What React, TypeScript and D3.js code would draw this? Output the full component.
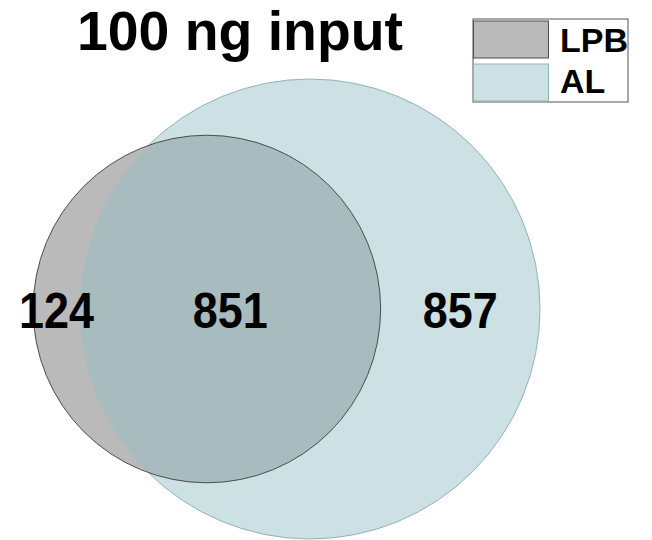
import React from 'react'
import * as d3 from 'd3'

// sets and region counts
const setNames = ['LPB', 'AL']
const setFills = ['#bababa', '#cde0e3']
const setStrokes = ['#4d4d4d', '#8fb4ba']
const overlapFill = '#a8bbbf'
const onlyCounts = [124, 857]
const sharedCount = 851
const title = '100 ng input'

const width = 652
const height = 540

// area of the lens between two circles
const lensArea = (r1: number, r2: number, d: number) => {
  if (d >= r1 + r2) return 0
  if (d <= Math.abs(r1 - r2)) return Math.PI * Math.min(r1, r2) ** 2
  const a = r1 * r1 * Math.acos((d * d + r1 * r1 - r2 * r2) / (2 * d * r1))
  const b = r2 * r2 * Math.acos((d * d + r2 * r2 - r1 * r1) / (2 * d * r2))
  const c =
    0.5 *
    Math.sqrt((-d + r1 + r2) * (d + r1 - r2) * (d - r1 + r2) * (d + r1 + r2))
  return a + b - c
}

export default function App() {
  const totals = onlyCounts.map((c) => c + sharedCount)

  const rScale = d3
    .scaleSqrt()
    .domain([0, d3.max(totals) as number])
    .range([0, 230])
  const r1 = rScale(totals[0])
  const r2 = rScale(totals[1])

  // solve the centre distance so the lens matches the shared count
  const target = (sharedCount / totals[0]) * Math.PI * r1 * r1
  let lo = Math.abs(r2 - r1)
  let hi = r1 + r2
  for (let i = 0; i < 60; i++) {
    const mid = (lo + hi) / 2
    if (lensArea(r1, r2, mid) > target) lo = mid
    else hi = mid
  }
  const dist = (lo + hi) / 2

  const cx2 = 310
  const cy = 309
  const cx1 = cx2 - dist

  // label positions: centre of each region on the horizontal axis
  const leftOnly = (cx1 - r1 + cx2 - r2) / 2
  const middle = (cx2 - r2 + cx1 + r1) / 2
  const rightOnly = (cx1 + r1 + cx2 + r2) / 2
  const labelX = [leftOnly, middle, rightOnly]
  const labelText = [onlyCounts[0], sharedCount, onlyCounts[1]]

  const font = 'Liberation Sans, Arial, sans-serif'

  return (
    <svg
      width={width}
      height={height}
      style={{ position: 'absolute', left: 0, top: 0, background: '#fff' }}
    >
      <defs>
        <clipPath id="lpb-clip">
          <circle cx={cx1} cy={cy} r={r1} />
        </clipPath>
      </defs>

      <circle
        cx={cx2}
        cy={cy}
        r={r2}
        fill={setFills[1]}
        stroke={setStrokes[1]}
        strokeWidth={1}
      />
      <circle cx={cx1} cy={cy} r={r1} fill={setFills[0]} />
      <circle
        cx={cx2}
        cy={cy}
        r={r2}
        fill={overlapFill}
        clipPath="url(#lpb-clip)"
      />
      <circle
        cx={cx1}
        cy={cy}
        r={r1}
        fill="none"
        stroke={setStrokes[0]}
        strokeWidth={1}
      />

      {labelText.map((t, i) => (
        <text
          key={i}
          x={labelX[i]}
          y={328}
          textAnchor="middle"
          fontFamily={font}
          fontWeight="bold"
          fontSize={50}
          textLength={75}
          lengthAdjust="spacingAndGlyphs"
          fill="#000"
        >
          {t}
        </text>
      ))}

      <text
        x={77}
        y={50}
        fontFamily={font}
        fontWeight="bold"
        fontSize={55}
        textLength={326}
        lengthAdjust="spacingAndGlyphs"
        fill="#000"
      >
        {title}
      </text>

      <g transform="translate(473,19)">
        <rect x={0} y={0} width={155} height={83} fill="#fff" stroke="#555" strokeWidth={1} />
        {setNames.map((name, i) => (
          <g key={name} transform={`translate(0,${i === 0 ? 2 : 45})`}>
            <rect
              x={0.5}
              y={0}
              width={75}
              height={37}
              fill={setFills[i]}
              stroke={setStrokes[i]}
              strokeWidth={1}
            />
            <text
              x={87}
              y={i === 0 ? 31 : 29}
              fontFamily={font}
              fontWeight="bold"
              fontSize={34}
              fill="#000"
            >
              {name}
            </text>
          </g>
        ))}
      </g>
    </svg>
  )
}
